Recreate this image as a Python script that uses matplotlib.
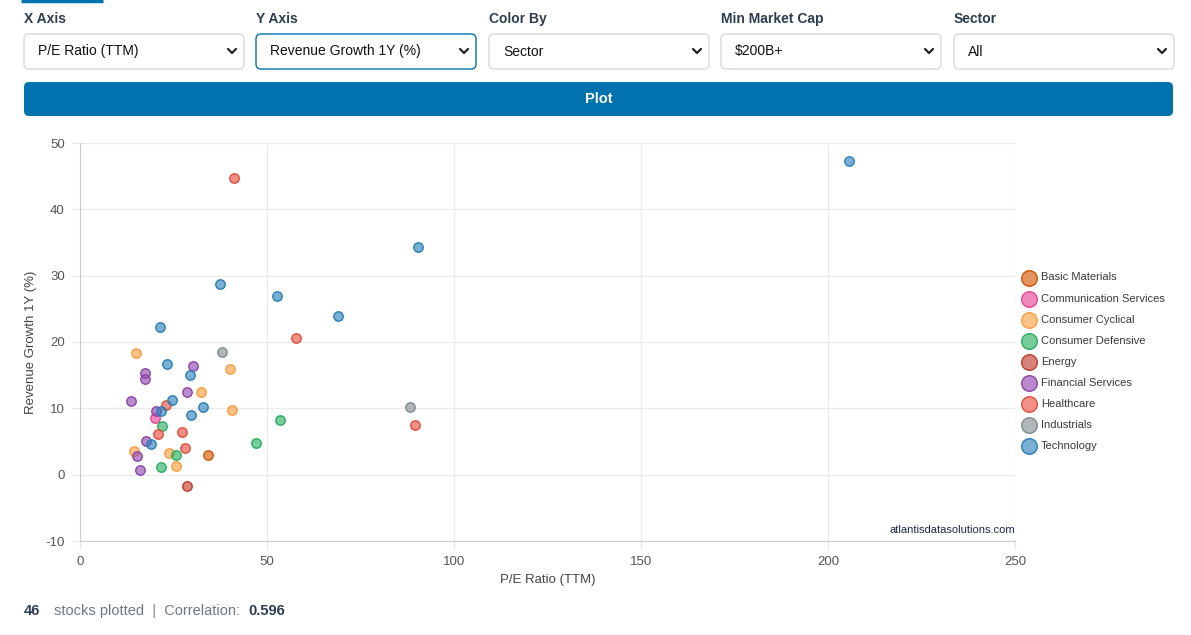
import matplotlib

matplotlib.use("Agg")
import matplotlib.pyplot as plt
import numpy as np
from matplotlib.patches import FancyBboxPatch

plt.rcParams["font.family"] = ["Liberation Sans", "DejaVu Sans"]
plt.rcParams["axes.unicode_minus"] = False

W, H = 1191, 635

SECTORS = [
    "Basic Materials",
    "Communication Services",
    "Consumer Cyclical",
    "Consumer Defensive",
    "Energy",
    "Financial Services",
    "Healthcare",
    "Industrials",
    "Technology",
]
SECTOR_COLORS = {
    "Basic Materials": "#d35400",
    "Communication Services": "#e84393",
    "Consumer Cyclical": "#fd9d3c",
    "Consumer Defensive": "#27ae60",
    "Energy": "#c0392b",
    "Financial Services": "#8e44ad",
    "Healthcare": "#e74c3c",
    "Industrials": "#7f8c8d",
    "Technology": "#2980b9",
}

# P/E ratio, revenue growth 1Y (%), sector
pe_ratio = [
    41.2, 205.6, 90.4, 37.4, 52.7, 69.0, 21.4, 88.2, 89.6,
    57.7, 15.0, 38.1, 23.2, 30.3, 40.2, 17.5, 17.4, 29.3, 28.7,
    32.4, 13.7, 24.6, 23.0, 32.8, 40.7, 20.4, 21.7, 20.1, 29.8,
    53.5, 22.0, 20.9, 27.4, 17.6, 19.0, 47.1, 28.1, 14.5, 15.3,
    23.7, 25.6, 34.3, 21.6, 25.7, 16.0, 28.5,
]
rev_growth = [
    44.7, 47.3, 34.3, 28.7, 26.9, 23.9, 22.2, 10.2, 7.5,
    20.6, 18.3, 18.5, 16.7, 16.4, 15.9, 15.3, 14.4, 15.1, 12.5,
    12.4, 11.1, 11.2, 10.5, 10.2, 9.8, 9.6, 9.6, 8.5, 9.0,
    8.2, 7.3, 6.1, 6.4, 5.1, 4.6, 4.8, 4.0, 3.5, 2.8,
    3.3, 2.9, 3.0, 1.2, 1.3, 0.7, -1.7,
]
sector = [
    "Healthcare", "Technology", "Technology", "Technology", "Technology",
    "Technology", "Technology", "Industrials", "Healthcare",
    "Healthcare", "Consumer Cyclical", "Industrials", "Technology",
    "Financial Services", "Consumer Cyclical", "Financial Services",
    "Financial Services", "Technology", "Financial Services",
    "Consumer Cyclical", "Financial Services", "Technology", "Healthcare",
    "Technology", "Consumer Cyclical", "Financial Services", "Technology",
    "Communication Services", "Technology", "Consumer Defensive",
    "Consumer Defensive", "Healthcare", "Healthcare", "Financial Services",
    "Technology", "Consumer Defensive", "Healthcare", "Consumer Cyclical",
    "Financial Services", "Consumer Cyclical", "Consumer Defensive",
    "Basic Materials", "Consumer Defensive", "Consumer Cyclical",
    "Financial Services", "Energy",
]

CONTROL_LABELS = ["X Axis", "Y Axis", "Color By", "Min Market Cap", "Sector"]
CONTROL_VALUES = ["P/E Ratio (TTM)", "Revenue Growth 1Y (%)", "Sector", "$200B+", "All"]

fig = plt.figure(figsize=(W / 100, H / 100), dpi=100)
fig.patch.set_facecolor("white")

# overlay in pixel coordinates for the page controls
ui = fig.add_axes([0, 0, 1, 1], zorder=0)
ui.set_xlim(0, W)
ui.set_ylim(H, 0)
ui.axis("off")

ui.plot([21, 103], [0.5, 0.5], color="#0073ae", lw=2.5, solid_capstyle="butt")

box_x = [24, 256, 489, 721, 954]
box_w = 220
for i, (lab, val) in enumerate(zip(CONTROL_LABELS, CONTROL_VALUES)):
    x0 = box_x[i]
    ui.text(x0, 19, lab, fontsize=10, fontweight="bold", color="#2c3e50",
            va="center", ha="left")
    edge = "#0073ae" if i == 1 else "#d5dbe1"
    ui.add_patch(FancyBboxPatch((x0, 34), box_w, 35,
                                boxstyle="round,pad=0,rounding_size=5",
                                fc="white", ec=edge, lw=1.0))
    ui.text(x0 + 14, 51.5, val, fontsize=10, color="#111111", va="center", ha="left")
    cx = x0 + box_w - 12
    ui.plot([cx - 4, cx, cx + 4], [49, 53, 49], color="#222222", lw=1.6,
            solid_capstyle="round", solid_joinstyle="round")

ui.add_patch(FancyBboxPatch((24, 82), 1149, 34,
                            boxstyle="round,pad=0,rounding_size=5",
                            fc="#0073ae", ec="none"))
ui.text(24 + 1149 / 2, 99, "Plot", fontsize=10.5, fontweight="bold",
        color="white", ha="center", va="center")

ui.text(24, 611, "46", fontsize=10.5, fontweight="bold", color="#2c3e50", va="center")
ui.text(54, 611, "stocks plotted  |  Correlation:", fontsize=10.5, color="#6c7a86",
        va="center")
ui.text(248, 611, "0.596", fontsize=10.5, fontweight="bold", color="#2c3e50", va="center")

# chart axes
left, right, top, bottom = 80, 1015, 143, 541
ax = fig.add_axes([left / W, 1 - bottom / H, (right - left) / W, (bottom - top) / H],
                  zorder=1)
ax.set_facecolor("none")

pe = np.array(pe_ratio)
rg = np.array(rev_growth)
sec = np.array(sector)
for s in SECTORS:
    m = sec == s
    c = SECTOR_COLORS[s]
    ax.scatter(pe[m], rg[m], s=46, facecolor=matplotlib.colors.to_rgba(c, 0.62),
               edgecolor=c, linewidth=1.0, label=s, zorder=3)

ax.set_xlim(0, 250)
ax.set_ylim(-10, 50)
ax.set_xticks(np.arange(0, 251, 50))
ax.set_yticks(np.arange(-10, 51, 10))
ax.grid(True, color="#ebebeb", lw=1.0)
ax.set_axisbelow(True)
for side in ["top", "right"]:
    ax.spines[side].set_visible(False)
for side in ["left", "bottom"]:
    ax.spines[side].set_color("#cccccc")
ax.tick_params(labelsize=9.5, colors="#555555", length=6, color="#e6e6e6", pad=5)
ax.set_xlabel("P/E Ratio (TTM)", fontsize=9.5, color="#444444", labelpad=4)
ax.set_ylabel("Revenue Growth 1Y (%)", fontsize=9.5, color="#444444", labelpad=6)

ax.text(1.0, 0.015, "atlantisdatasolutions.com", transform=ax.transAxes,
        ha="right", va="bottom", fontsize=8, color="#1a2b4c")

leg = ax.legend(loc="center left", bbox_to_anchor=(1.0 + 2 / (right - left), 0.45),
                frameon=False, fontsize=8, handletextpad=0.35, labelspacing=1.0,
                markerscale=1.65, borderaxespad=0, handlelength=1.4)
for t in leg.get_texts():
    t.set_color("#3a3a3a")

fig.savefig("out.png", dpi=100)
